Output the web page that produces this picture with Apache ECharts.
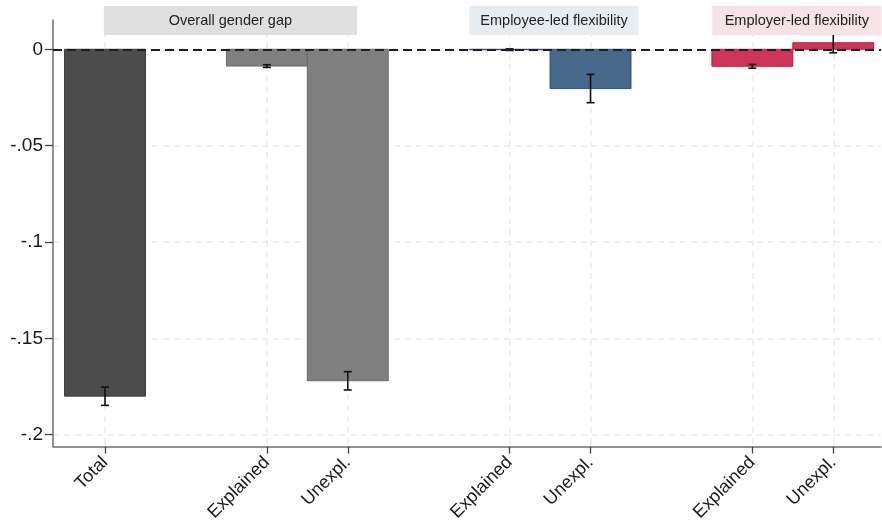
<!DOCTYPE html>
<html>
<head>
<meta charset="utf-8">
<script src="https://cdn.jsdelivr.net/npm/echarts@6/dist/echarts.min.js"></script>
<style>
  html, body { margin: 0; padding: 0; background: #fff; }
  #chart { width: 882px; height: 524px; }
</style>
</head>
<body>
<div id="chart"></div>
<script>
// Gender gap decomposition: overall, employee-led and employer-led flexibility
const groupTitles = ['Overall gender gap', 'Employee-led flexibility', 'Employer-led flexibility'];
const groupLabels = [['Total', 'Explained', 'Unexpl.'], ['Explained', 'Unexpl.'], ['Explained', 'Unexpl.']];
const estimates   = [[-0.180, -0.0087, -0.172], [-0.0002, -0.0204], [-0.0088, 0.0034]];
const ciLower     = [[-0.1848, -0.0094, -0.1768], [-0.0006, -0.0277], [-0.0098, -0.0018]];
const ciUpper     = [[-0.1753, -0.0080, -0.1673], [0.0002, -0.0130], [-0.0079, 0.0082]];
const yTicks      = [0, -0.05, -0.1, -0.15, -0.2];

// ---- styling ----
const FONT = '"Liberation Sans", Arial, Helvetica, sans-serif';
const groupFill   = ['#808080', '#46688b', '#cf3558'];
const groupStroke = ['#6a6a6a', '#2f5274', '#c01a45'];
const totalFill = '#4c4c4c', totalStroke = '#3a3a3a';
const headerFill = ['#e0e0e0', '#e7ecf0', '#f7e2e7'];
const headerWidthPx = [253, 169, 169];
const headerShiftPx = 4;

// ---- slot layout: one empty slot after "Total" and after each group ----
const bars = [];      // {x, value, lo, hi, label, group, total}
let slot = 0;
groupLabels.forEach((labels, g) => {
  labels.forEach((lab, i) => {
    bars.push({ x: slot, value: estimates[g][i], lo: ciLower[g][i], hi: ciUpper[g][i],
                label: lab, group: g, total: lab === 'Total' });
    slot += 1;
    if (lab === 'Total') slot += 1;
  });
  slot += 1;
});
const headers = groupTitles.map((t, g) => {
  const xs = bars.filter(b => b.group === g).map(b => b.x);
  return [(Math.min(...xs) + Math.max(...xs)) / 2, 0, g];
});
const lastX = bars[bars.length - 1].x;
const labelAt = {};
bars.forEach(b => { labelAt[b.x] = b.label; });

const gridDash = { color: '#ebebeb', width: 1.5, type: [6, 5] };

const chart = echarts.init(document.getElementById('chart'), null, { renderer: 'canvas' });
chart.setOption({
  animation: false,
  backgroundColor: '#ffffff',
  grid: { left: 53, right: 1, top: 20, bottom: 77, containLabel: false },
  xAxis: {
    type: 'value',
    min: -0.643,
    max: lastX + 0.59,
    axisLine: { show: true, onZero: false, lineStyle: { color: '#6e6e6e', width: 1.5 } },
    axisTick: { show: true, length: 7, customValues: bars.map(b => b.x),
                lineStyle: { color: '#444', width: 1.3 } },
    axisLabel: {
      customValues: bars.map(b => b.x),
      formatter: v => labelAt[v] || '',
      rotate: 45, margin: 13,
      fontFamily: FONT, fontSize: 18, color: '#1a1a1a'
    },
    splitLine: { show: true, lineStyle: gridDash }
  },
  yAxis: {
    type: 'value',
    min: -0.2062,
    max: 0.0152,
    axisLine: { show: true, onZero: false, lineStyle: { color: '#6e6e6e', width: 1.5 } },
    axisTick: { show: true, length: 8, customValues: yTicks,
                lineStyle: { color: '#444', width: 1.3 } },
    axisLabel: {
      customValues: yTicks,
      formatter: v => (v === 0 ? '0' : String(+v.toFixed(4)).replace('0.', '.')),
      margin: 10,
      fontFamily: FONT, fontSize: 19, color: '#1a1a1a'
    },
    splitLine: { show: true, lineStyle: gridDash }
  },
  series: [
    {
      // bars, one unit wide, drawn from zero
      type: 'custom',
      z: 2,
      data: bars.map(b => [b.x, b.value]),
      encode: { x: 0, y: 1 },
      renderItem: (params, api) => {
        const b = bars[params.dataIndex];
        const x = api.value(0), y = api.value(1);
        const p0 = api.coord([x - 0.5, 0]);
        const p1 = api.coord([x + 0.5, y]);
        return {
          type: 'rect',
          shape: { x: p0[0], y: Math.min(p0[1], p1[1]),
                   width: p1[0] - p0[0], height: Math.abs(p1[1] - p0[1]) },
          style: { fill: b.total ? totalFill : groupFill[b.group],
                   stroke: b.total ? totalStroke : groupStroke[b.group], lineWidth: 1 }
        };
      }
    },
    {
      // confidence intervals
      type: 'custom',
      z: 3,
      data: bars.map(b => [b.x, b.lo, b.hi]),
      encode: { x: 0, y: [1, 2] },
      renderItem: (params, api) => {
        const x = api.value(0);
        const lo = api.coord([x, api.value(1)]);
        const hi = api.coord([x, api.value(2)]);
        const cap = 4;
        const st = { stroke: '#111', lineWidth: 1.6 };
        return {
          type: 'group',
          children: [
            { type: 'line', shape: { x1: lo[0], y1: lo[1], x2: hi[0], y2: hi[1] }, style: st },
            { type: 'line', shape: { x1: lo[0] - cap, y1: lo[1], x2: lo[0] + cap, y2: lo[1] }, style: st },
            { type: 'line', shape: { x1: hi[0] - cap, y1: hi[1], x2: hi[0] + cap, y2: hi[1] }, style: st }
          ]
        };
      },
      markLine: {
        silent: true,
        symbol: 'none',
        label: { show: false },
        lineStyle: { color: '#1e1e1e', width: 1.8, type: [9, 5] },
        data: [{ yAxis: 0 }]
      }
    },
    {
      // group headers above the bars
      type: 'custom',
      z: 5,
      data: headers,
      encode: { x: 0, y: 1 },
      renderItem: (params, api) => {
        const g = api.value(2);
        const c = api.coord([api.value(0), 0]);
        const cx = c[0] + headerShiftPx;
        const w = headerWidthPx[g];
        return {
          type: 'group',
          children: [
            { type: 'rect', shape: { x: cx - w / 2, y: 6, width: w, height: 29 },
              style: { fill: headerFill[g] } },
            { type: 'text', x: cx, y: 20.5,
              style: { text: groupTitles[g], fill: '#222', font: '14.5px ' + FONT,
                       align: 'center', verticalAlign: 'middle' } }
          ]
        };
      }
    }
  ]
});
</script>
</body>
</html>
